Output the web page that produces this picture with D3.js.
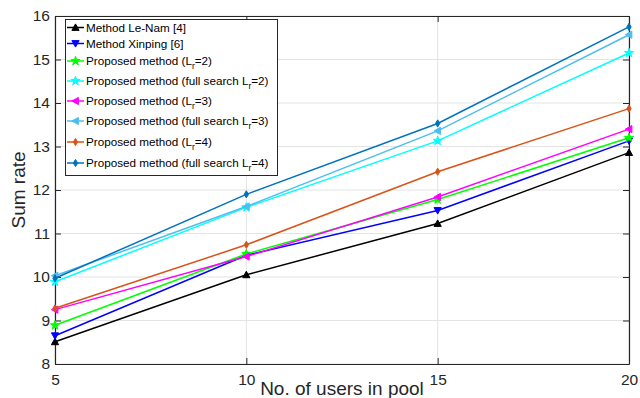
<!DOCTYPE html>
<html><head><meta charset="utf-8">
<script src="https://cdn.jsdelivr.net/npm/d3@7"></script>
<style>body{margin:0;background:#fff;}svg{display:block;font-family:"Liberation Sans",Arial,sans-serif;}</style>
</head><body><svg id="c" width="640" height="398"></svg>
<script>
const users = [5, 10, 15, 20];
const leNam = [8.51, 10.05, 11.23, 12.86];
const xinping = [8.65, 10.50, 11.53, 13.13];
const propL2 = [8.89, 10.53, 11.78, 13.20];
const fullL2 = [9.89, 11.60, 13.13, 15.15];
const propL3 = [9.25, 10.47, 11.84, 13.40];
const fullL3 = [10.03, 11.62, 13.36, 15.57];
const propL4 = [9.28, 10.74, 12.42, 13.87];
const fullL4 = [9.97, 11.90, 13.53, 15.75];
const xTicks = [5, 10, 15, 20];
const yTicks = [8, 9, 10, 11, 12, 13, 14, 15, 16];

const series = [
  {name: "Method Le-Nam [4]", sub: null, values: leNam, color: "#000000", marker: "up"},
  {name: "Method Xinping [6]", sub: null, values: xinping, color: "#0000ff", marker: "down"},
  {name: "Proposed method (L", sub: "=2)", values: propL2, color: "#00ff00", marker: "star"},
  {name: "Proposed method (full search L", sub: "=2)", values: fullL2, color: "#00ffff", marker: "star"},
  {name: "Proposed method (L", sub: "=3)", values: propL3, color: "#ff00ff", marker: "left"},
  {name: "Proposed method (full search L", sub: "=3)", values: fullL3, color: "#4dbeee", marker: "left"},
  {name: "Proposed method (L", sub: "=4)", values: propL4, color: "#d95319", marker: "diamond"},
  {name: "Proposed method (full search L", sub: "=4)", values: fullL4, color: "#0072bd", marker: "diamond"}
];

const svg = d3.select("#c");
const L = 55, R = 629, T = 16, B = 364;
const x = d3.scaleLinear().domain([5, 20]).range([L, R]);
const y = d3.scaleLinear().domain([8, 16]).range([B, T]);

// grid
const g = svg.append("g");
g.selectAll(".gx").data(xTicks).join("line")
  .attr("x1", d => x(d)).attr("x2", d => x(d)).attr("y1", T).attr("y2", B)
  .attr("stroke", "#e3e3e3").attr("stroke-width", 1);
g.selectAll(".gy").data(yTicks).join("line")
  .attr("x1", L).attr("x2", R).attr("y1", d => y(d)).attr("y2", d => y(d))
  .attr("stroke", "#e3e3e3").attr("stroke-width", 1);

// axes
const axCol = "#262626";
const xAxis = svg.append("g").attr("transform", `translate(0,${B})`)
  .call(d3.axisBottom(x).tickValues(xTicks).tickSizeInner(-6).tickSizeOuter(0).tickPadding(10));
const yAxis = svg.append("g").attr("transform", `translate(${L},0)`)
  .call(d3.axisLeft(y).tickValues(yTicks).tickSizeInner(-6).tickSizeOuter(0).tickPadding(5));
const xTop = svg.append("g").attr("transform", `translate(0,${T})`)
  .call(d3.axisTop(x).tickValues(xTicks).tickSizeInner(-6).tickSizeOuter(0).tickFormat(""));
const yRight = svg.append("g").attr("transform", `translate(${R},0)`)
  .call(d3.axisRight(y).tickValues(yTicks).tickSizeInner(-6).tickSizeOuter(0).tickFormat(""));
[xAxis, yAxis, xTop, yRight].forEach(a => {
  a.selectAll("path").attr("stroke", axCol).attr("stroke-width", 1.2);
  a.selectAll("line").attr("stroke", axCol);
  a.selectAll("text").attr("fill", axCol).style("font-size", "15.5px").style("font-family", "Liberation Sans, Arial, sans-serif");
});

// labels
svg.append("text").attr("x", (L + R) / 2).attr("y", 395).attr("text-anchor", "middle")
  .attr("fill", axCol).style("font-size", "19px").text("No. of users in pool");
svg.append("text").attr("transform", `translate(25,${(T + B) / 2}) rotate(-90)`)
  .attr("text-anchor", "middle").attr("fill", axCol).style("font-size", "19px").text("Sum rate");

// markers
function markerPath(type) {
  const s = 3.6;
  if (type === "diamond") return `M0,${-s}L${s*0.6},0L0,${s}L${-s*0.6},0Z`;
  if (type === "star") return d3.symbol(d3.symbolStar, 26)();
  const tri = `M0,${-s}L${s},${s*0.8}L${-s},${s*0.8}Z`;
  return tri;
}
function markerRot(type) {
  if (type === "down") return 180;
  if (type === "left") return -90;
  return 0;
}

const line = d3.line().x((d, i) => x(users[i])).y(d => y(d));
series.forEach(s => {
  svg.append("path").datum(s.values).attr("d", line)
    .attr("fill", "none").attr("stroke", s.color).attr("stroke-width", 1.5);
  svg.selectAll(null).data(s.values).join("path")
    .attr("d", markerPath(s.marker))
    .attr("transform", (d, i) => `translate(${x(users[i])},${y(d)}) rotate(${markerRot(s.marker)})`)
    .attr("fill", s.color).attr("stroke", s.color).attr("stroke-width", 1);
});

// legend
const lg = svg.append("g");
lg.append("rect").attr("x", 65.5).attr("y", 19.5).attr("width", 212).attr("height", 156)
  .attr("fill", "#fff").attr("stroke", axCol).attr("stroke-width", 1);
const rowsY = [27.5, 43.5, 61, 81, 101, 121, 142, 163];
series.forEach((s, i) => {
  const yy = rowsY[i];
  lg.append("line").attr("x1", 67).attr("x2", 84).attr("y1", yy).attr("y2", yy)
    .attr("stroke", s.color).attr("stroke-width", 1.5);
  lg.append("path").attr("d", markerPath(s.marker))
    .attr("transform", `translate(75.5,${yy}) rotate(${markerRot(s.marker)})`)
    .attr("fill", s.color).attr("stroke", s.color);
  const t = lg.append("text").attr("x", 86).attr("y", yy + 4).attr("fill", "#000").style("font-size", "11.7px");
  t.append("tspan").text(s.name);
  if (s.sub) {
    t.append("tspan").attr("dy", 3.5).style("font-size", "8.5px").text("r");
    t.append("tspan").attr("dy", -3.5).text(s.sub);
  }
});
</script></body></html>
